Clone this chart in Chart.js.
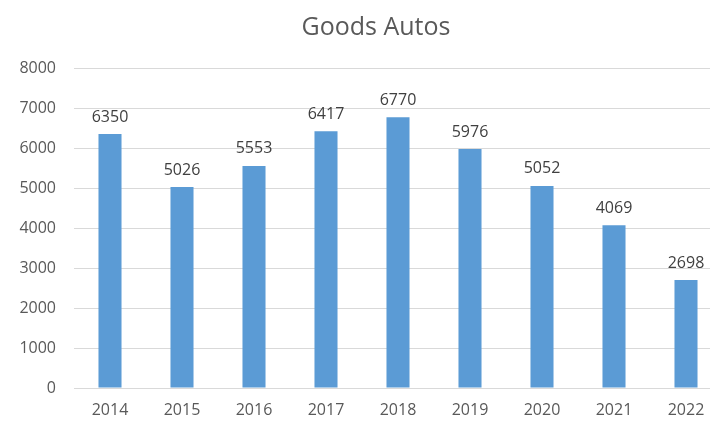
<!DOCTYPE html>
<html>
<head>
<meta charset="utf-8">
<script src="https://cdn.jsdelivr.net/npm/chart.js@4"></script>
<style>
  html, body { margin: 0; padding: 0; background: #fff; overflow: hidden; }
  #wrap { width: 740px; height: 425px; }
</style>
</head>
<body>
<div id="wrap"><canvas id="chart1"></canvas></div>
<script>
const years = ['2014', '2015', '2016', '2017', '2018', '2019', '2020', '2021', '2022'];
const autos = [6350, 5026, 5553, 6417, 6770, 5976, 5052, 4069, 2698];
const yTicks = [0, 1000, 2000, 3000, 4000, 5000, 6000, 7000, 8000];

const fontFamily = '"Open Sans", sans-serif';
const titleText = 'Goods Autos';

// heading, placed a little left of the plot's middle
const chartHeading = {
    id: 'chartHeading',
    afterDraw(chart) {
        const ctx = chart.ctx;
        const area = chart.chartArea;
        ctx.save();
        ctx.font = '25px ' + fontFamily;
        ctx.fillStyle = '#595959';
        ctx.textAlign = 'center';
        ctx.textBaseline = 'middle';
        ctx.fillText(titleText, (area.left + area.right) / 2 - 22, 28);
        ctx.restore();
    }
};

// prints each bar's value just above it
const valueLabels = {
    id: 'valueLabels',
    afterDatasetsDraw(chart) {
        const ctx = chart.ctx;
        const meta = chart.getDatasetMeta(0);
        ctx.save();
        ctx.font = '16px ' + fontFamily;
        ctx.fillStyle = '#404040';
        ctx.textAlign = 'center';
        ctx.textBaseline = 'bottom';
        meta.data.forEach((bar, i) => {
            ctx.fillText(String(chart.data.datasets[0].data[i]), bar.x, bar.y - 9);
        });
        ctx.restore();
    }
};

(function() {
    const chart = document.getElementById('chart1');

    const data = {
        labels: years,
        datasets: [{
            label: titleText,
            data: autos,
            backgroundColor: '#5b9bd5',
            barPercentage: 0.64,
            categoryPercentage: 0.5
        }]
    };

    const config = {
        type: 'bar',
        data: data,
        options: {
            responsive: true,
            maintainAspectRatio: false,
            animation: false,
            layout: { padding: { top: 68, right: 18 } },
            plugins: {
                legend: { display: false },
                tooltip: { enabled: false },
                title: { display: false }
            },
            scales: {
                x: {
                    grid: { display: false },
                    border: { display: false },
                    ticks: { color: '#595959', font: { family: fontFamily, size: 16 }, padding: 5 },
                    afterFit: (scale) => { scale.height = 37; }
                },
                y: {
                    min: 0,
                    max: 8000,
                    afterBuildTicks: (scale) => { scale.ticks = yTicks.map(v => ({ value: v })); },
                    grid: { color: '#d9d9d9', drawTicks: false },
                    border: { display: false },
                    ticks: {
                        color: '#595959',
                        font: { family: fontFamily, size: 16 },
                        padding: 18,
                        callback: (value) => String(value)
                    },
                    afterFit: (scale) => { scale.width = 74; }
                }
            }
        },
        plugins: [valueLabels, chartHeading]
    };

    new Chart(chart, config);
})();
</script>
</body>
</html>
